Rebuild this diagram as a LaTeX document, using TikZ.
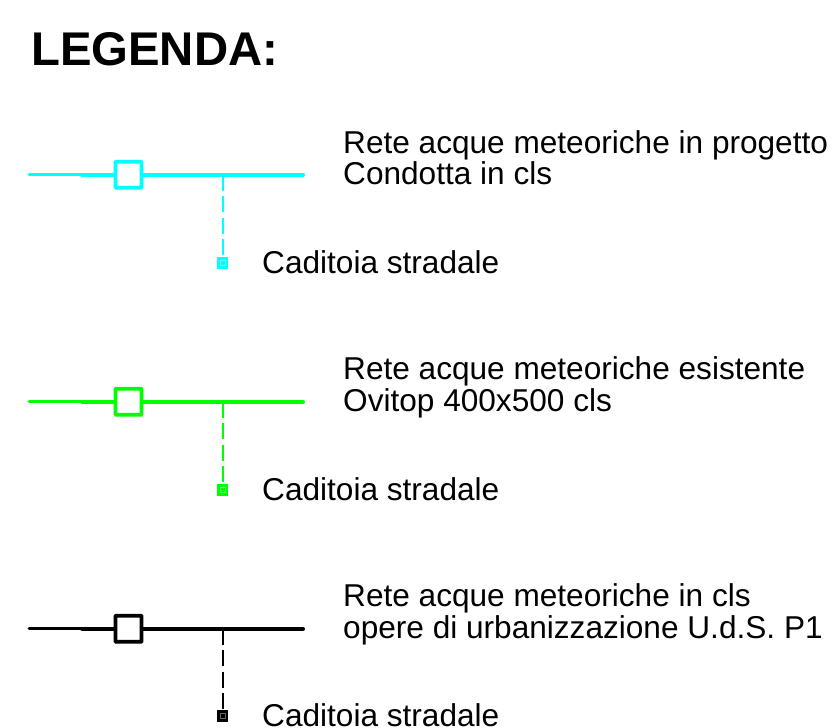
\documentclass[tikz,border=0pt]{standalone}
\usepackage{fontspec}
\setmainfont{Liberation Sans}
\definecolor{cyanline}{RGB}{0,255,255}
\definecolor{greenline}{RGB}{0,255,0}
\definecolor{blackline}{RGB}{0,0,0}
\tikzset{
  x=1pt,y=-1pt,
  title/.style={anchor=base west,inner sep=0pt,font=\fontsize{47.3}{49}\selectfont\bfseries},
  legtext/.style={anchor=base west,inner sep=0pt,font=\fontsize{31.6}{33}\selectfont},
  thinline/.style={line width=2.6pt,line cap=round},
  mainline/.style={line width=4pt,line cap=round},
  branch/.style={line width=2pt},
  boxsym/.style={draw,fill=white,line width=3.6pt,minimum size=26pt,inner sep=0pt,rounded corners=0.5pt},
  inletsym/.style={fill,minimum size=11.5pt,inner sep=0pt},
  inletcore/.style={draw=white,draw opacity=0.4,line width=0.7pt,minimum size=5pt,inner sep=0pt},
}
\newcommand{\legendgroup}[6]{%
  % #1 prefix, #2 colour, #3 line y, #4 inlet y, #5 dash phase, #6 text
  \coordinate (#1start) at (29,#3);
  \coordinate (#1mid) at (82,#3);
  \coordinate (#1end) at (303,#3);
  \coordinate (#1tee) at (222.5,#3);
  \draw[thinline,#2] (#1start) -- (#1mid);
  \draw[mainline,#2] (#1mid) -- (#1end);
  \node[boxsym,draw=#2] (#1box) at (128.5,#3) {};
  \node[inletsym,fill=#2] (#1inlet) at (222.5,#4) {};
  \node[inletcore] (#1core) at (222.5,#4) {};
  \draw[branch,#2,dash pattern=on 16pt off 5.5pt,dash phase=#5pt] (#1tee) -- (#1inlet);
  \node[legtext] (#1cad) at (262,#4+10) {Caditoia stradale};
  #6
}
\begin{document}
\begin{tikzpicture}
\useasboundingbox (0,0) rectangle (836,728);
\node[title] (head) at (31,65) {LEGENDA:};
\legendgroup{a}{cyanline}{174.7}{263}{0}{%
  \node[legtext] (a1) at (343,153) {Rete acque meteoriche in progetto};
  \node[legtext] (a2) at (343,184) {Condotta in cls};}
\legendgroup{b}{greenline}{401.7}{490}{0}{%
  \node[legtext] (b1) at (343,379) {Rete acque meteoriche esistente};
  \node[legtext] (b2) at (343,411) {Ovitop 400x500 cls};}
\legendgroup{c}{blackline}{628.7}{716}{0}{%
  \node[legtext] (c1) at (343,606) {Rete acque meteoriche in cls};
  \node[legtext] (c2) at (343,638) {opere di urbanizzazione U.d.S. P1};}
\end{tikzpicture}
\end{document}
